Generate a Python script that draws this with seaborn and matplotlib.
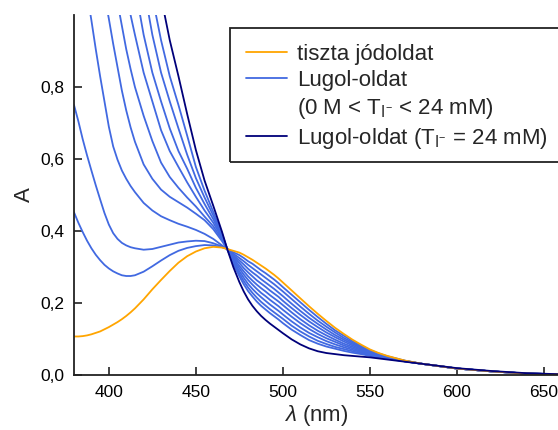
import numpy as np
import pandas as pd
import matplotlib
matplotlib.use("Agg")
import matplotlib.pyplot as plt
from matplotlib.lines import Line2D
from matplotlib.patches import Rectangle
from matplotlib.ticker import FuncFormatter
import seaborn as sns

nan = np.nan
wavelength = [380, 382.5, 385, 387.5, 390, 392.5, 395, 397.5, 400, 402.5, 405, 407.5, 410, 412.5, 415,
              420, 425, 430, 435, 440, 445, 450, 455, 460, 465,
              468,
              471.5, 475, 477.5, 480, 482.5, 485, 487.5, 490, 492.5, 495, 497.5, 500,
              505, 510, 515, 520, 525, 530, 535, 540, 545, 550, 555, 560,
              570, 580, 600, 620, 640, 660]

iodine = [0.107, 0.107, 0.108, 0.110, 0.113, 0.117, 0.121, 0.127, 0.133, 0.140, 0.147, 0.155, 0.164, 0.174, 0.185,
          0.210, 0.238, 0.264, 0.289, 0.312, 0.330, 0.343, 0.352, 0.356, 0.354,
          0.350,
          0.345, 0.340, 0.334, 0.327, 0.320, 0.312, 0.304, 0.296, 0.287, 0.278, 0.268, 0.257,
          0.235, 0.213, 0.191, 0.170, 0.150, 0.131, 0.114, 0.098, 0.084, 0.071, 0.061, 0.053,
          0.040, 0.031, 0.018, 0.010, 0.004, 0.002]

lugol_1 = [0.452, 0.423, 0.397, 0.373, 0.352, 0.334, 0.319, 0.306, 0.296, 0.288, 0.282, 0.277, 0.275, 0.275, 0.277,
           0.287, 0.302, 0.318, 0.333, 0.345, 0.353, 0.358, 0.361, 0.360, 0.355,
           0.350,
           0.341, 0.333, 0.325, 0.316, 0.309, 0.300, 0.291, 0.283, 0.274, 0.265, 0.255, 0.244,
           0.223, 0.202, 0.181, 0.161, 0.142, 0.124, 0.109, 0.094, 0.081, 0.069, 0.060, 0.052,
           0.040, 0.031, 0.018, 0.010, 0.004, 0.002]
lugol_2 = [0.750, 0.705, 0.655, 0.610, 0.568, 0.527, 0.488, 0.450, 0.418, 0.394, 0.378, 0.367, 0.360, 0.355, 0.352,
           0.348, 0.350, 0.356, 0.362, 0.368, 0.371, 0.373, 0.372, 0.366, 0.357,
           0.350,
           0.337, 0.325, 0.316, 0.306, 0.297, 0.288, 0.279, 0.270, 0.261, 0.252, 0.242, 0.232,
           0.211, 0.190, 0.170, 0.151, 0.134, 0.118, 0.103, 0.090, 0.078, 0.067, 0.058, 0.051,
           0.039, 0.031, 0.018, 0.010, 0.004, 0.002]
lugol_3 = [nan, nan, nan, 1.060, 0.985, 0.905, 0.830, 0.760, 0.690, 0.635, 0.598, 0.568, 0.545, 0.525, 0.508,
           0.478, 0.457, 0.441, 0.430, 0.420, 0.412, 0.403, 0.392, 0.378, 0.360,
           0.350,
           0.333, 0.318, 0.307, 0.295, 0.285, 0.276, 0.266, 0.257, 0.248, 0.239, 0.229, 0.219,
           0.198, 0.178, 0.159, 0.142, 0.126, 0.111, 0.098, 0.086, 0.075, 0.065, 0.057, 0.050,
           0.039, 0.031, 0.018, 0.010, 0.004, 0.002]
lugol_4 = [nan, nan, nan, nan, nan, nan, nan, 1.055, 0.990, 0.920, 0.855, 0.790, 0.735, 0.688, 0.648,
           0.585, 0.545, 0.515, 0.495, 0.480, 0.465, 0.448, 0.430, 0.405, 0.372,
           0.350,
           0.329, 0.311, 0.297, 0.285, 0.274, 0.263, 0.254, 0.245, 0.235, 0.226, 0.217, 0.206,
           0.186, 0.167, 0.149, 0.133, 0.118, 0.105, 0.093, 0.082, 0.072, 0.063, 0.056, 0.049,
           0.039, 0.031, 0.018, 0.010, 0.004, 0.002]
lugol_5 = [nan, nan, nan, nan, nan, nan, nan, nan, nan, nan, 1.035, 0.970, 0.905, 0.850, 0.800,
           0.720, 0.650, 0.590, 0.550, 0.520, 0.493, 0.468, 0.440, 0.413, 0.377,
           0.350,
           0.325, 0.303, 0.288, 0.274, 0.262, 0.251, 0.241, 0.232, 0.222, 0.213, 0.204, 0.194,
           0.174, 0.155, 0.138, 0.123, 0.110, 0.098, 0.087, 0.078, 0.069, 0.061, 0.054, 0.049,
           0.039, 0.031, 0.018, 0.010, 0.004, 0.002]
lugol_6 = [nan, nan, nan, nan, nan, nan, nan, nan, nan, nan, nan, nan, 1.070, 1.000, 0.945,
           0.840, 0.760, 0.680, 0.622, 0.578, 0.535, 0.495, 0.457, 0.423, 0.381,
           0.350,
           0.321, 0.296, 0.279, 0.264, 0.251, 0.239, 0.228, 0.219, 0.209, 0.200, 0.191, 0.181,
           0.162, 0.144, 0.128, 0.114, 0.102, 0.092, 0.082, 0.074, 0.066, 0.059, 0.053, 0.048,
           0.038, 0.031, 0.018, 0.010, 0.004, 0.002]
lugol_7 = [nan, nan, nan, nan, nan, nan, nan, nan, nan, nan, nan, nan, nan, nan, 1.080,
           0.945, 0.840, 0.760, 0.685, 0.622, 0.573, 0.520, 0.475, 0.433, 0.385,
           0.350,
           0.317, 0.288, 0.270, 0.253, 0.239, 0.227, 0.216, 0.206, 0.196, 0.187, 0.178, 0.168,
           0.149, 0.132, 0.117, 0.105, 0.094, 0.085, 0.077, 0.070, 0.063, 0.057, 0.052, 0.047,
           0.038, 0.031, 0.018, 0.010, 0.004, 0.002]
lugol_8 = [nan, nan, nan, nan, nan, nan, nan, nan, nan, nan, nan, nan, nan, nan, nan,
           1.080, 0.945, 0.840, 0.760, 0.685, 0.612, 0.547, 0.493, 0.443, 0.389,
           0.350,
           0.313, 0.281, 0.261, 0.243, 0.228, 0.215, 0.203, 0.193, 0.183, 0.174, 0.165, 0.156,
           0.137, 0.121, 0.107, 0.095, 0.086, 0.078, 0.072, 0.066, 0.060, 0.055, 0.050, 0.046,
           0.038, 0.031, 0.018, 0.010, 0.004, 0.002]
lugol_9 = [nan, nan, nan, nan, nan, nan, nan, nan, nan, nan, nan, nan, nan, nan, nan,
           1.220, 1.050, 0.930, 0.830, 0.750, 0.665, 0.578, 0.512, 0.453, 0.393,
           0.350,
           0.309, 0.274, 0.252, 0.233, 0.218, 0.204, 0.192, 0.182, 0.172, 0.163, 0.154, 0.144,
           0.126, 0.111, 0.097, 0.087, 0.079, 0.073, 0.067, 0.062, 0.058, 0.053, 0.049, 0.045,
           0.038, 0.031, 0.018, 0.010, 0.004, 0.002]
lugol_24mM = [nan, nan, nan, nan, nan, nan, nan, nan, nan, nan, nan, nan, nan, nan, nan,
              nan, 1.200, 1.050, 0.930, 0.830, 0.725, 0.625, 0.540, 0.470, 0.398,
              0.350,
              0.300, 0.258, 0.232, 0.210, 0.192, 0.177, 0.164, 0.153, 0.143, 0.134, 0.125, 0.116,
              0.099, 0.085, 0.074, 0.066, 0.061, 0.058, 0.055, 0.053, 0.051, 0.049, 0.046, 0.043,
              0.037, 0.031, 0.019, 0.011, 0.005, 0.002]

y_ticks = [0.0, 0.2, 0.4, 0.6, 0.8]
x_ticks = [400, 450, 500, 550, 600, 650]

legend_labels = ["tiszta jódoldat", "Lugol-oldat",
                 r"(0 M < $\mathrm{T_{I^{-}}}$ < 24 mM)",
                 r"Lugol-oldat ($\mathrm{T_{I^{-}}}$ = 24 mM)"]

series = {
    "L1": lugol_1, "L2": lugol_2, "L3": lugol_3, "L4": lugol_4, "L5": lugol_5,
    "L6": lugol_6, "L7": lugol_7, "L8": lugol_8, "L9": lugol_9,
    "I2": iodine, "L24": lugol_24mM,
}
rows = []
for name, vals in series.items():
    assert len(vals) == len(wavelength), (name, len(vals))
    for w, a in zip(wavelength, vals):
        rows.append((name, w, a))
df = pd.DataFrame(rows, columns=["series", "wl", "A"]).dropna()

ORANGE = "#FFA500"
BLUE = "#4169E1"
NAVY = "#00007A"
palette = {k: BLUE for k in series}
palette["I2"] = ORANGE
palette["L24"] = NAVY

sns.set_theme(style="ticks")
plt.rcParams["font.family"] = ["Liberation Sans", "DejaVu Sans"]
plt.rcParams["mathtext.fontset"] = "custom"
plt.rcParams["mathtext.rm"] = "Liberation Sans"
plt.rcParams["mathtext.it"] = "Liberation Sans:italic"
plt.rcParams["mathtext.bf"] = "Liberation Sans:bold"

fig = plt.figure(figsize=(5.58, 4.30), dpi=100)
ax = fig.add_axes([74 / 558, 1 - 375 / 430, 1 - 74 / 558, (375 - 15) / 430])

sns.lineplot(data=df, x="wl", y="A", hue="series", hue_order=list(series.keys()),
             palette=palette, legend=False, sort=False, estimator=None, lw=1.3, ax=ax)

ax.set_xlim(380, 658)
ax.set_ylim(0, 1.0)
ax.set_xticks(x_ticks)
ax.set_yticks(y_ticks)
ax.yaxis.set_major_formatter(FuncFormatter(lambda v, p: f"{v:.1f}".replace(".", ",")))
ax.tick_params(direction="in", length=5.5, width=1.2, labelsize=12.5, pad=7, colors="#222222",
               labelcolor="black")
for s in ["top", "right"]:
    ax.spines[s].set_visible(False)
for s in ["left", "bottom"]:
    ax.spines[s].set_linewidth(1.3)
    ax.spines[s].set_color("#222222")

ax.set_xlabel(r"$\lambda$ (nm)", fontsize=16, labelpad=2)
ax.set_ylabel("A", fontsize=16, labelpad=4)

handles = [Line2D([], [], color=ORANGE, lw=1.3),
           Line2D([], [], color=BLUE, lw=1.3),
           Line2D([], [], color="none", lw=0),
           Line2D([], [], color=NAVY, lw=1.3)]
leg = fig.legend(handles, legend_labels, loc="upper left",
                 bbox_to_anchor=(230 / 558, 1 - 28 / 430),
                 fontsize=16, frameon=False,
                 handlelength=1.85, handletextpad=0.45, labelspacing=0.23,
                 borderpad=0.7, borderaxespad=0)
fig.add_artist(Rectangle((230 / 558, 1 - 162 / 430), 0.7, (162 - 28) / 430,
                         transform=fig.transFigure, fill=False, lw=1.3,
                         ec="#222222", clip_on=False))

fig.savefig("out.png", dpi=100)
